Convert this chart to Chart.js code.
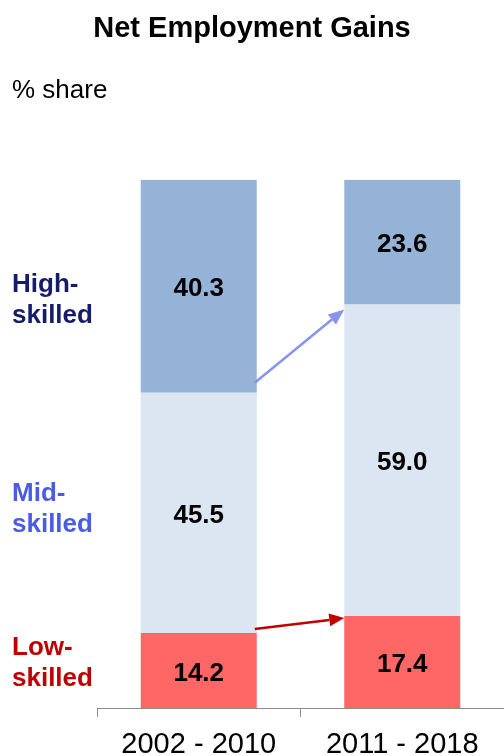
<!DOCTYPE html>
<html>
<head>
<meta charset="utf-8">
<script src="https://cdn.jsdelivr.net/npm/chart.js@4"></script>
<style>
  html, body { margin: 0; padding: 0; background: #ffffff; }
  #wrap { width: 504px; height: 756px; }
</style>
</head>
<body>
<div id="wrap"><canvas id="gainsChart" width="504" height="756"></canvas></div>
<script>
// Dados do gráfico
const periods = ['2002 - 2010', '2011 - 2018'];
const lowSkilled = [14.2, 17.4];
const midSkilled = [45.5, 59.0];
const highSkilled = [40.3, 23.6];
const skillLabels = ['Low-skilled', 'Mid-skilled', 'High-skilled'];
const unitLabel = '% share';

const FONT = "'Liberation Sans', Arial, Helvetica, sans-serif";
const barColors = ['#FF6666', '#DCE6F2', '#95B3D7'];
const textColors = ['#C00000', '#4A5BE6', '#161B6B'];
const labelShift = [-7, -4, 14];

// Desenha uma seta simples
function drawArrow(ctx, x1, y1, x2, y2, color, lw, headLen, headW) {
  const ang = Math.atan2(y2 - y1, x2 - x1);
  const bx = x2 - headLen * Math.cos(ang);
  const by = y2 - headLen * Math.sin(ang);
  ctx.save();
  ctx.strokeStyle = color;
  ctx.fillStyle = color;
  ctx.lineWidth = lw;
  ctx.beginPath();
  ctx.moveTo(x1, y1);
  ctx.lineTo(bx, by);
  ctx.stroke();
  ctx.beginPath();
  ctx.moveTo(x2, y2);
  ctx.lineTo(bx + headW / 2 * Math.sin(ang), by - headW / 2 * Math.cos(ang));
  ctx.lineTo(bx - headW / 2 * Math.sin(ang), by + headW / 2 * Math.cos(ang));
  ctx.closePath();
  ctx.fill();
  ctx.restore();
}

// Rótulos de valor, nomes das categorias e setas
const annotatePlugin = {
  id: 'annotate',
  afterDatasetsDraw(chart) {
    const ctx = chart.ctx;
    ctx.save();

    // "% share"
    ctx.font = '26px ' + FONT;
    ctx.fillStyle = '#000000';
    ctx.textAlign = 'left';
    ctx.textBaseline = 'middle';
    ctx.fillText(unitLabel, 12, 91);

    ctx.font = 'bold 26px ' + FONT;
    ctx.textAlign = 'center';
    chart.data.datasets.forEach((ds, i) => {
      chart.getDatasetMeta(i).data.forEach((bar, j) => {
        const c = bar.getCenterPoint();
        ctx.fillText(ds.data[j].toFixed(1), c.x, c.y + 3);
      });
    });

    // nomes à esquerda
    ctx.textAlign = 'left';
    chart.data.datasets.forEach((ds, i) => {
      const bar = chart.getDatasetMeta(i).data[0];
      const cy = bar.getCenterPoint().y + labelShift[i];
      const parts = ds.label.split('-');
      ctx.fillStyle = textColors[i];
      ctx.fillText(parts[0] + '-', 12, cy - 15.5);
      ctx.fillText(parts[1], 12, cy + 15.5);
    });
    ctx.restore();

    // setas: topo do segmento (barra 1) -> topo do segmento (barra 2)
    const lowMeta = chart.getDatasetMeta(0).data;
    const midMeta = chart.getDatasetMeta(1).data;
    const a1 = lowMeta[0], a2 = lowMeta[1];
    drawArrow(ctx, a1.x + a1.width / 2 - 2, a1.y - 4, a2.x - a2.width / 2, a2.y + 2,
      '#C00000', 2.5, 15, 13);
    const b1 = midMeta[0], b2 = midMeta[1];
    drawArrow(ctx, b1.x + b1.width / 2 - 2, b1.y - 10, b2.x - b2.width / 2, b2.y + 5,
      '#8893EE', 2.5, 16, 13);
  }
};

const ctx = document.getElementById('gainsChart').getContext('2d');
new Chart(ctx, {
  type: 'bar',
  data: {
    labels: periods,
    datasets: [
      { label: skillLabels[0], data: lowSkilled, backgroundColor: barColors[0] },
      { label: skillLabels[1], data: midSkilled, backgroundColor: barColors[1] },
      { label: skillLabels[2], data: highSkilled, backgroundColor: barColors[2] }
    ]
  },
  options: {
    responsive: false,
    animation: false,
    barPercentage: 0.57,
    categoryPercentage: 1,
    layout: { padding: { left: 0, right: 0, top: 0, bottom: 0 } },
    plugins: {
      legend: { display: false },
      tooltip: { enabled: false },
      title: {
        display: true,
        text: 'Net Employment Gains',
        color: '#000000',
        font: { family: FONT, size: 29, weight: 'bold', lineHeight: 1.2 },
        padding: { top: 12, bottom: 133 }
      }
    },
    scales: {
      x: {
        stacked: true,
        grid: {
          display: true,
          drawOnChartArea: false,
          drawTicks: true,
          tickLength: 9,
          color: '#8C8C8C',
          offset: true
        },
        border: { display: true, color: '#8C8C8C', width: 1 },
        ticks: {
          color: '#000000',
          padding: 13,
          font: { family: FONT, size: 29, lineHeight: 1 }
        },
        afterFit(scale) { scale.height = 48; }
      },
      y: {
        stacked: true,
        min: 0,
        max: 100,
        display: true,
        grid: { display: false },
        border: { display: false },
        ticks: { display: false },
        afterFit(scale) { scale.width = 97; }
      }
    }
  },
  plugins: [annotatePlugin]
});
</script>
</body>
</html>
